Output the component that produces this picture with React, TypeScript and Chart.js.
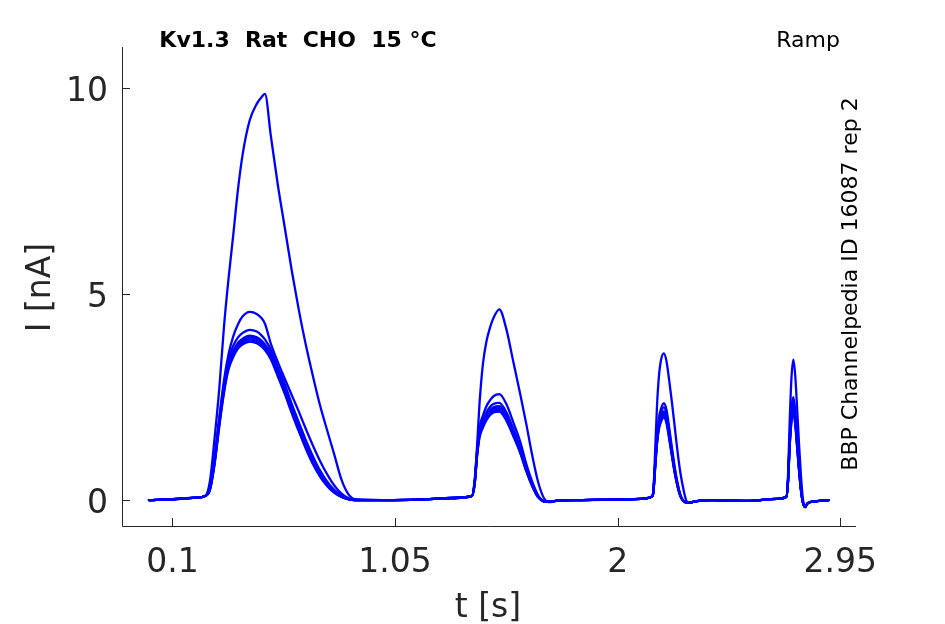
import { useEffect, useRef } from "react";
import { Chart, registerables } from "chart.js";

Chart.register(...registerables);

// sample times [s], one block per ramp
const pulse1Time = [0, 0.1, 0.2, 0.24, 0.26, 0.28, 0.3, 0.32, 0.34, 0.36, 0.38, 0.4, 0.43, 0.46, 0.48, 0.495, 0.52, 0.55, 0.58, 0.61, 0.64, 0.67, 0.7, 0.73, 0.76, 0.79, 0.82, 0.85, 0.88];
const pulse2Time = [1.0, 1.15, 1.3, 1.378, 1.39, 1.4, 1.41, 1.425, 1.44, 1.455, 1.47, 1.495, 1.525, 1.555, 1.585, 1.61, 1.635, 1.66, 1.685, 1.705, 1.75];
const pulse3Time = [1.85, 2.0, 2.1, 2.145, 2.152, 2.16, 2.168, 2.176, 2.185, 2.197, 2.208, 2.22, 2.232, 2.244, 2.256, 2.268, 2.28, 2.292, 2.302, 2.33];
const pulse4Time = [2.4, 2.55, 2.68, 2.72, 2.727, 2.734, 2.742, 2.75, 2.758, 2.766, 2.774, 2.782, 2.79, 2.8, 2.81, 2.83, 2.86, 2.9];

const time = [...pulse1Time, ...pulse2Time, ...pulse3Time, ...pulse4Time];

// current [nA] per sweep, same order as time
const sweep1 = [
  0, 0.02, 0.06, 0.1, 0.45, 1.5, 2.7, 4.2, 5.4, 6.45, 7.55, 8.4, 9.22, 9.62, 9.78, 9.86, 8.85, 7.65, 6.6, 5.55, 4.6, 3.75, 3.0, 2.3, 1.7, 1.12, 0.52, 0.15, 0.02,
  0.0, 0.01, 0.05, 0.1, 0.5, 1.3, 2.3, 3.3, 3.85, 4.18, 4.42, 4.63, 4.15, 3.35, 2.55, 1.85, 1.1, 0.45, 0.05, -0.05, -0.01,
  0.0, 0.01, 0.03, 0.08, 0.2, 1.2, 2.3, 3.0, 3.4, 3.56, 3.38, 2.9, 2.35, 1.75, 1.15, 0.65, 0.28, 0.0, -0.07, -0.03,
  0.0, -0.02, 0.03, 0.08, 0.6, 1.9, 3.0, 3.41, 3.0, 2.2, 1.35, 0.6, 0.05, -0.17, -0.08, -0.04, -0.02, 0.0,
];
const sweep2 = [
  0, 0.02, 0.06, 0.1, 0.3, 1.05, 2.0, 2.9, 3.55, 3.98, 4.27, 4.46, 4.57, 4.52, 4.42, 4.28, 3.8, 3.35, 2.94, 2.54, 2.14, 1.72, 1.32, 0.95, 0.63, 0.36, 0.16, 0.05, 0.0,
  0.0, 0.01, 0.05, 0.1, 0.45, 1.2, 1.75, 2.05, 2.28, 2.42, 2.52, 2.57, 2.33, 1.88, 1.4, 0.88, 0.45, 0.12, -0.03, -0.04, -0.01,
  0.0, 0.01, 0.03, 0.08, 0.2, 0.9, 1.6, 2.0, 2.22, 2.35, 2.2, 1.75, 1.25, 0.78, 0.4, 0.12, -0.02, -0.06, -0.07, -0.03,
  0.0, -0.02, 0.03, 0.08, 0.5, 1.5, 2.25, 2.5, 2.15, 1.5, 0.85, 0.3, -0.05, -0.17, -0.08, -0.04, -0.02, 0.0,
];
const sweep3 = [
  0, 0.02, 0.06, 0.1, 0.28, 1.0, 1.95, 2.8, 3.42, 3.75, 3.95, 4.06, 4.13, 4.09, 4.0, 3.9, 3.65, 3.22, 2.8, 2.32, 1.88, 1.45, 1.06, 0.72, 0.45, 0.25, 0.11, 0.03, 0.0,
  0.0, 0.01, 0.05, 0.1, 0.43, 1.15, 1.65, 1.93, 2.13, 2.26, 2.33, 2.36, 2.13, 1.72, 1.27, 0.8, 0.4, 0.1, -0.03, -0.04, -0.01,
  0.0, 0.01, 0.03, 0.08, 0.19, 0.87, 1.53, 1.92, 2.13, 2.25, 2.1, 1.67, 1.19, 0.74, 0.37, 0.11, -0.02, -0.06, -0.07, -0.03,
  0.0, -0.02, 0.03, 0.08, 0.48, 1.42, 2.12, 2.35, 2.02, 1.4, 0.8, 0.28, -0.05, -0.17, -0.08, -0.04, -0.02, 0.0,
];
const sweep4 = [
  0, 0.02, 0.06, 0.1, 0.27, 0.95, 1.9, 2.72, 3.32, 3.62, 3.82, 3.92, 3.99, 3.95, 3.87, 3.78, 3.56, 3.15, 2.72, 2.22, 1.78, 1.35, 0.98, 0.65, 0.4, 0.22, 0.1, 0.03, 0.0,
  0.0, 0.01, 0.05, 0.1, 0.42, 1.12, 1.6, 1.87, 2.06, 2.18, 2.25, 2.28, 2.06, 1.66, 1.22, 0.76, 0.37, 0.09, -0.03, -0.04, -0.01,
  0.0, 0.01, 0.03, 0.08, 0.18, 0.84, 1.47, 1.84, 2.04, 2.15, 2.01, 1.6, 1.14, 0.7, 0.35, 0.1, -0.02, -0.06, -0.07, -0.03,
  0.0, -0.02, 0.03, 0.08, 0.47, 1.38, 2.06, 2.28, 1.96, 1.36, 0.77, 0.27, -0.05, -0.17, -0.08, -0.04, -0.02, 0.0,
];
const sweep5 = [
  0, 0.02, 0.06, 0.1, 0.26, 0.92, 1.86, 2.68, 3.28, 3.58, 3.78, 3.88, 3.95, 3.91, 3.83, 3.74, 3.52, 3.1, 2.67, 2.18, 1.74, 1.31, 0.94, 0.62, 0.38, 0.2, 0.09, 0.02, 0.0,
  0.0, 0.01, 0.05, 0.1, 0.41, 1.1, 1.57, 1.83, 2.02, 2.14, 2.21, 2.23, 2.01, 1.62, 1.19, 0.74, 0.36, 0.08, -0.03, -0.04, -0.01,
  0.0, 0.01, 0.03, 0.08, 0.18, 0.82, 1.44, 1.8, 2.0, 2.1, 1.96, 1.56, 1.11, 0.68, 0.34, 0.1, -0.02, -0.06, -0.07, -0.03,
  0.0, -0.02, 0.03, 0.08, 0.46, 1.35, 2.0, 2.22, 1.9, 1.32, 0.75, 0.26, -0.05, -0.17, -0.08, -0.04, -0.02, 0.0,
];
const sweep6 = [
  0, 0.02, 0.06, 0.1, 0.25, 0.9, 1.82, 2.64, 3.23, 3.53, 3.73, 3.83, 3.9, 3.86, 3.78, 3.69, 3.47, 3.05, 2.62, 2.14, 1.7, 1.27, 0.9, 0.59, 0.36, 0.19, 0.08, 0.02, 0.0,
  0.0, 0.01, 0.05, 0.1, 0.4, 1.08, 1.54, 1.8, 1.98, 2.1, 2.17, 2.19, 1.97, 1.58, 1.16, 0.72, 0.35, 0.08, -0.03, -0.04, -0.01,
  0.0, 0.01, 0.03, 0.08, 0.17, 0.8, 1.4, 1.76, 1.95, 2.05, 1.92, 1.52, 1.08, 0.66, 0.33, 0.09, -0.02, -0.06, -0.07, -0.03,
  0.0, -0.02, 0.03, 0.08, 0.45, 1.32, 1.96, 2.17, 1.86, 1.29, 0.73, 0.25, -0.05, -0.17, -0.08, -0.04, -0.02, 0.0,
];
const sweep7 = [
  0, 0.02, 0.06, 0.1, 0.24, 0.87, 1.78, 2.6, 3.18, 3.48, 3.68, 3.78, 3.85, 3.81, 3.73, 3.64, 3.42, 3.0, 2.57, 2.1, 1.66, 1.24, 0.87, 0.57, 0.34, 0.18, 0.08, 0.02, 0.0,
  0.0, 0.01, 0.05, 0.1, 0.4, 1.06, 1.5, 1.76, 1.94, 2.06, 2.13, 2.15, 1.93, 1.55, 1.13, 0.7, 0.34, 0.07, -0.03, -0.04, -0.01,
  0.0, 0.01, 0.03, 0.08, 0.17, 0.78, 1.37, 1.72, 1.9, 2.0, 1.87, 1.48, 1.05, 0.64, 0.32, 0.09, -0.02, -0.06, -0.07, -0.03,
  0.0, -0.02, 0.03, 0.08, 0.44, 1.29, 1.92, 2.12, 1.82, 1.26, 0.71, 0.24, -0.05, -0.17, -0.08, -0.04, -0.02, 0.0,
];

const sweeps = [sweep1, sweep2, sweep3, sweep4, sweep5, sweep6, sweep7];

const xTicks = [0.1, 1.05, 2, 2.95];
const xTickLabels = ["0.1", "1.05", "2", "2.95"];
const yTicks = [0, 5, 10];
const yTickLabels = ["0", "5", "10"];

const TEXT = "#262626";
const FONT = '"DejaVu Sans", sans-serif';

// MATLAB-style axes: left/bottom spines only, ticks pointing inward
const axesPlugin = {
  id: "matlabAxes",
  afterDraw(chart: any) {
    const { ctx, chartArea: a, scales } = chart;
    const xs = scales.x;
    const ys = scales.y;
    ctx.save();
    ctx.strokeStyle = TEXT;
    ctx.lineWidth = 1;
    ctx.beginPath();
    ctx.moveTo(a.left + 0.5, a.top);
    ctx.lineTo(a.left + 0.5, a.bottom + 0.5);
    ctx.lineTo(a.right, a.bottom + 0.5);
    xTicks.forEach((v) => {
      const px = Math.round(xs.getPixelForValue(v)) + 0.5;
      ctx.moveTo(px, a.bottom);
      ctx.lineTo(px, a.bottom - 8);
    });
    yTicks.forEach((v) => {
      const py = Math.round(ys.getPixelForValue(v)) + 0.5;
      ctx.moveTo(a.left, py);
      ctx.lineTo(a.left + 8, py);
    });
    ctx.stroke();

    ctx.fillStyle = TEXT;
    ctx.font = `33px ${FONT}`;
    ctx.textBaseline = "alphabetic";
    ctx.textAlign = "center";
    xTicks.forEach((v, i) => {
      ctx.fillText(xTickLabels[i], xs.getPixelForValue(v), a.bottom + 46);
    });
    ctx.textAlign = "right";
    yTicks.forEach((v, i) => {
      ctx.fillText(yTickLabels[i], a.left - 14, ys.getPixelForValue(v) + 13);
    });

    ctx.textAlign = "center";
    ctx.fillText("t [s]", (a.left + a.right) / 2 - 1, a.bottom + 91);
    ctx.save();
    ctx.translate(50, (a.top + a.bottom) / 2 + 1);
    ctx.rotate(-Math.PI / 2);
    ctx.fillText("I [nA]", 0, 0);
    ctx.restore();

    ctx.fillStyle = "#000";
    ctx.font = `bold 22px ${FONT}`;
    ctx.fillText("Kv1.3  Rat  CHO  15 °C", 298, 47);
    ctx.font = `22px ${FONT}`;
    ctx.fillText("Ramp", 808, 47);
    ctx.save();
    ctx.translate(857, 284);
    ctx.rotate(-Math.PI / 2);
    ctx.fillText("BBP Channelpedia ID 16087 rep 2", 0, 0);
    ctx.restore();
    ctx.restore();
  },
};

export default function App() {
  const canvasRef = useRef<HTMLCanvasElement>(null);

  useEffect(() => {
    document.body.style.margin = "0";
    const ctx = canvasRef.current?.getContext("2d");
    if (!ctx) return;

    const chart = new Chart(ctx, {
      type: "line",
      data: {
        datasets: sweeps.map((s) => ({
          data: time.map((t, i) => ({ x: t, y: s[i] })),
          borderColor: "#0000ff",
          borderWidth: 2.3,
          pointRadius: 0,
          cubicInterpolationMode: "monotone" as const,
          fill: false,
        })),
      },
      options: {
        responsive: true,
        maintainAspectRatio: false,
        animation: false,
        layout: { padding: { left: 122, right: 89, top: 47, bottom: 98 } },
        elements: { line: { borderJoinStyle: "round", borderCapStyle: "round" } },
        plugins: {
          legend: { display: false },
          tooltip: { enabled: false },
        },
        scales: {
          x: { type: "linear", display: false, min: -0.115, max: 3.017 },
          y: { type: "linear", display: false, min: -0.63, max: 11 },
        },
      },
      plugins: [axesPlugin],
    });

    return () => {
      chart.destroy();
    };
  }, []);

  return (
    <div style={{ position: "relative", width: 945, height: 624 }}>
      <canvas ref={canvasRef} />
    </div>
  );
}
